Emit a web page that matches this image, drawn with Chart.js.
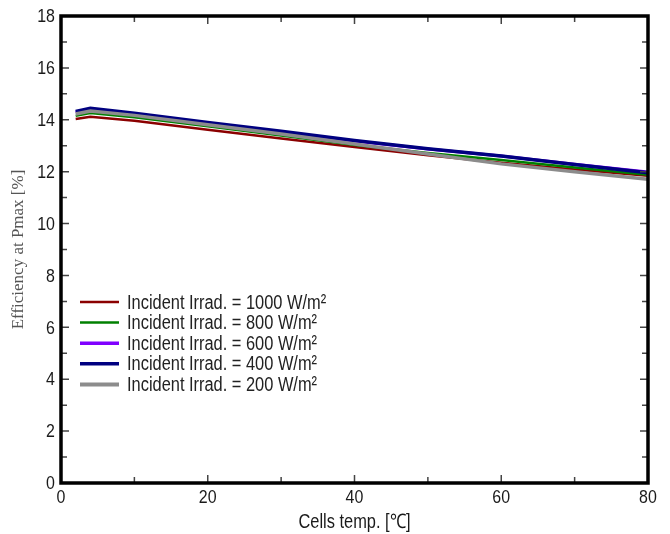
<!DOCTYPE html>
<html>
<head>
<meta charset="utf-8">
<script src="https://cdn.jsdelivr.net/npm/chart.js@4.4.0/dist/chart.umd.min.js"></script>
<style>
  html, body { margin: 0; padding: 0; background: #fff; }
  #wrap { width: 670px; height: 534px; }
</style>
</head>
<body>
<div id="wrap"><canvas id="effChart"></canvas></div>
<script>
// cell temperature points [°C]
const temps = [2, 4, 10, 20, 30, 40, 50, 60, 70, 80];

// legend labels
const irradLabels = [
  'Incident Irrad. = 1000 W/m\u00b2',
  'Incident Irrad. = 800 W/m\u00b2',
  'Incident Irrad. = 600 W/m\u00b2',
  'Incident Irrad. = 400 W/m\u00b2',
  'Incident Irrad. = 200 W/m\u00b2'
];

// efficiency at Pmax [%] for each irradiance
const eff1000 = [14.03, 14.12, 13.96, 13.62, 13.28, 12.95, 12.63, 12.34, 12.08, 11.84];
const eff800  = [14.15, 14.26, 14.10, 13.75, 13.39, 13.03, 12.72, 12.45, 12.16, 11.88];
const eff600  = [14.29, 14.41, 14.22, 13.87, 13.53, 13.18, 12.87, 12.60, 12.29, 11.99];
const eff400  = [14.32, 14.44, 14.25, 13.90, 13.56, 13.20, 12.88, 12.60, 12.28, 11.96];
const eff200  = [14.22, 14.34, 14.17, 13.81, 13.45, 13.07, 12.68, 12.30, 12.00, 11.71];

const xTicks = [0, 20, 40, 60, 80];
const yTicks = [0, 2, 4, 6, 8, 10, 12, 14, 16, 18];
const xTitle = 'Cells temp. [\u2103]';
const yTitle = 'Efficiency at Pmax [%]';

const series = [eff1000, eff800, eff600, eff400, eff200];
const colors = ['#8b0000', '#008000', '#8000ff', '#000080', '#8c8c8c'];
const widths = [2.5, 2.5, 3, 3.5, 3.5];
const legendWidths = [2.5, 2.5, 3.5, 3.5, 4];
const drawOrder = [5, 4, 3, 2, 1]; // gray ends up on top

const SANS = "'Liberation Sans', Arial, sans-serif";

const datasets = series.map((vals, i) => ({
  label: irradLabels[i],
  data: temps.map((t, k) => ({ x: t, y: vals[k] })),
  borderColor: colors[i],
  backgroundColor: colors[i],
  borderWidth: widths[i],
  pointRadius: 0,
  tension: 0,
  order: drawOrder[i]
}));

// the original uses a narrow Helvetica, squeeze Liberation Sans to get close
function narrowText(ctx, txt, x, y, align, squeeze) {
  ctx.save();
  ctx.translate(x, y);
  ctx.scale(squeeze, 1);
  ctx.textAlign = align;
  ctx.fillText(txt, 0, 0);
  ctx.restore();
}

// frame with inward ticks on all four sides, tick labels, titles, legend
const frameAndLegend = {
  id: 'frameAndLegend',
  afterDatasetsDraw(chart) {
    const { ctx, chartArea: a, scales: { x, y } } = chart;
    ctx.save();
    ctx.strokeStyle = '#444';
    ctx.lineWidth = 1.5;
    ctx.beginPath();
    for (let v = 0; v <= 80; v += 10) {
      const px = x.getPixelForValue(v);
      const len = v % 20 === 0 ? 8 : 6;
      ctx.moveTo(px, a.bottom); ctx.lineTo(px, a.bottom - len);
      ctx.moveTo(px, a.top); ctx.lineTo(px, a.top + len);
    }
    for (let v = 0; v <= 18; v += 1) {
      const py = y.getPixelForValue(v);
      const len = v % 2 === 0 ? 8 : 6;
      ctx.moveTo(a.left, py); ctx.lineTo(a.left + len, py);
      ctx.moveTo(a.right, py); ctx.lineTo(a.right - len, py);
    }
    ctx.stroke();

    ctx.strokeStyle = '#000';
    ctx.lineWidth = 3.5;
    ctx.strokeRect(a.left, a.top, a.right - a.left, a.bottom - a.top);

    // tick labels
    ctx.fillStyle = '#1a1a1a';
    ctx.textBaseline = 'middle';
    ctx.font = '19px ' + SANS;
    x.ticks.forEach(t => {
      narrowText(ctx, String(t.value), x.getPixelForValue(t.value), a.bottom + 15, 'center', 0.84);
    });
    y.ticks.forEach(t => {
      narrowText(ctx, String(t.value), a.left - 6, y.getPixelForValue(t.value) + 1, 'right', 0.84);
    });

    // axis titles
    ctx.font = '20px ' + SANS;
    narrowText(ctx, xTitle, (a.left + a.right) / 2, a.bottom + 39, 'center', 0.82);

    ctx.save();
    ctx.translate(19, (a.top + a.bottom) / 2);
    ctx.rotate(-Math.PI / 2);
    ctx.font = "17px 'Liberation Serif', 'Times New Roman', serif";
    ctx.fillStyle = '#555';
    ctx.textAlign = 'center';
    ctx.fillText(yTitle, 0, 0);
    ctx.restore();

    // legend
    const lx = 80, ly = 302, gap = 20.6;
    ctx.font = '20px ' + SANS;
    ctx.fillStyle = '#222';
    irradLabels.forEach((txt, i) => {
      const yy = ly + i * gap;
      ctx.strokeStyle = colors[i];
      ctx.lineWidth = legendWidths[i];
      ctx.beginPath();
      ctx.moveTo(lx, yy); ctx.lineTo(lx + 39, yy);
      ctx.stroke();
      narrowText(ctx, txt, lx + 47, yy + 1, 'left', 0.82);
    });
    ctx.restore();
  }
};

const ctx = document.getElementById('effChart').getContext('2d');
new Chart(ctx, {
  type: 'line',
  data: { datasets: datasets },
  options: {
    responsive: true,
    maintainAspectRatio: false,
    animation: false,
    layout: { padding: { top: 16, right: 22, left: 0, bottom: 0 } },
    plugins: {
      legend: { display: false },
      tooltip: { enabled: false }
    },
    scales: {
      x: {
        type: 'linear',
        min: 0, max: 80,
        afterBuildTicks: (s) => { s.ticks = xTicks.map(v => ({ value: v })); },
        afterFit: (s) => { s.height = 51; },
        grid: { display: false },
        border: { display: false },
        ticks: { display: false }
      },
      y: {
        min: 0, max: 18,
        afterBuildTicks: (s) => { s.ticks = yTicks.map(v => ({ value: v })); },
        afterFit: (s) => { s.width = 61; },
        grid: { display: false },
        border: { display: false },
        ticks: { display: false }
      }
    }
  },
  plugins: [frameAndLegend]
});
</script>
</body>
</html>
